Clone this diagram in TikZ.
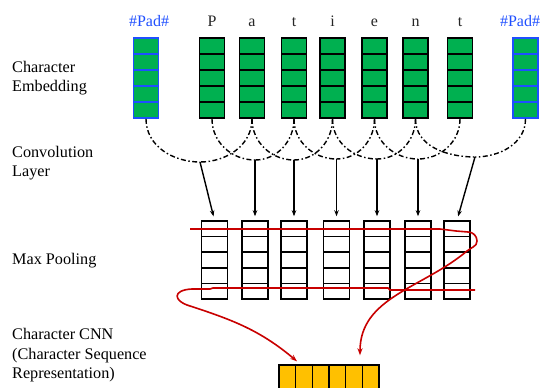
\documentclass[tikz,border=0pt]{standalone}
\usepackage{fontspec}
\setmainfont{Liberation Serif}
\usetikzlibrary{arrows.meta,calc}
\definecolor{embgreen}{HTML}{00B050}
\definecolor{padblue}{HTML}{1F4FFF}
\definecolor{poolred}{HTML}{C80000}
\definecolor{outorange}{HTML}{FFC000}
\begin{document}
\begin{tikzpicture}[x=1pt,y=1pt,
  % horizontal cell dividers for a vertical vector
  hcells/.style={path picture={
    \foreach \k in {1,...,4}{
      \draw[line width=#1]
        ($(path picture bounding box.north west)!\k/5!(path picture bounding box.south west)$) --
        ($(path picture bounding box.north east)!\k/5!(path picture bounding box.south east)$);}}},
  % vertical cell dividers for the output vector
  vcells/.style={path picture={
    \foreach \k in {1,...,5}{
      \draw[line width=1.4pt]
        ($(path picture bounding box.north west)!\k/6!(path picture bounding box.north east)$) --
        ($(path picture bounding box.south west)!\k/6!(path picture bounding box.south east)$);}}},
  emb/.style={rectangle, draw=black, fill=embgreen, line width=1.8pt,
    minimum width=25pt, minimum height=80pt, inner sep=0pt, hcells=1.8pt},
  embpad/.style={emb, draw=padblue, hcells=1.6pt},
  pool/.style={rectangle, draw=black, fill=white, line width=1.5pt,
    minimum width=26pt, minimum height=78pt, inner sep=0pt, hcells=1.5pt},
  outvec/.style={rectangle, draw=black, fill=outorange, line width=1.4pt,
    minimum width=100pt, minimum height=28pt, inner sep=0pt, vcells},
  toplab/.style={anchor=base, inner sep=0pt, font=\fontsize{16}{19}\selectfont, text=black!85},
  padlab/.style={toplab, text=padblue},
  % anchored at the baseline of the last line
  sidelab/.style={anchor=base west, inner sep=0pt, align=left,
    font=\fontsize{16.2}{19.5}\selectfont},
  conv/.style={line width=1.4pt, dash pattern=on 5pt off 2.5pt on 1.5pt off 2.5pt},
  convarrow/.style={line width=1.4pt, -{Stealth[length=6pt,width=4.5pt]}, shorten >=4pt},
  redpath/.style={draw=poolred, line width=1.6pt, -{Stealth[length=7pt,width=5pt]}}
]
\useasboundingbox (0,0) rectangle (544,388);
\clip (0,0) rectangle (544,388);

% side labels
\node[sidelab] (tEmb) at (12,296) {Character\\Embedding};
\node[sidelab] (tConv) at (12,211) {Convolution\\Layer};
\node[sidelab] (tPool) at (12,123) {Max Pooling};
\node[sidelab] (tCnn) at (12,9) {Character CNN\\(Character Sequence\\Representation)};

% character embeddings
\node[embpad] (e0) at (146,310) {};
\node[emb] (e1) at (212,310) {};
\node[emb] (e2) at (252,310) {};
\node[emb] (e3) at (294,310) {};
\node[emb] (e4) at (332.5,310) {};
\node[emb] (e5) at (374.5,310) {};
\node[emb] (e6) at (415.5,310) {};
\node[emb] (e7) at (460,310) {};
\node[embpad] (e8) at (525.5,310) {};

% characters
\node[padlab] (c0) at (149,361) {\#Pad\#};
\node[toplab] (c1) at (212,361) {P};
\node[toplab] (c2) at (252,361) {a};
\node[toplab] (c3) at (294,361) {t};
\node[toplab] (c4) at (332.5,361) {i};
\node[toplab] (c5) at (374.5,361) {e};
\node[toplab] (c6) at (415.5,361) {n};
\node[toplab] (c7) at (460,361) {t};
\node[padlab] (c8) at (520,361) {\#Pad\#};

% max pooling vectors
\node[pool] (p1) at (214.5,128) {};
\node[pool] (p2) at (255,128) {};
\node[pool] (p3) at (294,128) {};
\node[pool] (p4) at (336.5,128) {};
\node[pool] (p5) at (377,128) {};
\node[pool] (p6) at (418,128) {};
\node[pool] (p7) at (457,128) {};

% convolution windows: joins of the dash-dot arcs
\coordinate (m1) at (200,226);
\coordinate (m2) at (255,228);
\coordinate (m3) at (294,228);
\coordinate (m4) at (336.5,229);
\coordinate (m5) at (377,229);
\coordinate (m6) at (418,229);
\coordinate (m7) at (475,231);

\foreach \k [evaluate=\k as \l using int(\k-1), evaluate=\k as \r using int(\k+1)] in {1,...,7}{
  \draw[conv] (e\l.south) to[out=-90,in=180] (m\k);
  \draw[conv] (e\r.south) to[out=-90,in=0] (m\k);
  \draw[convarrow] (m\k) -- (p\k.north);
}

% output vector
\node[outvec] (out) at (329,9) {};

% max-pooling traces
\coordinate (ra) at (190,159);
\coordinate (rb) at (475,98);
\draw[redpath] (ra) -- (440,159) -- (456,157) -- (468,156)
  to[out=0,in=90] (477,147) to[out=-90,in=40] (467,137)
  to[out=-140,in=90] ($(out.north)+(31,9)$);
\draw[redpath] (rb) -- (390,98) -- (388,100) -- (213,100) -- (210,99) -- (192,99)
  .. controls (172,98) and (173,87) .. (190,82)
  to[out=-18,in=140] ($(out.north)+(-32,3)$);
\end{tikzpicture}
\end{document}
